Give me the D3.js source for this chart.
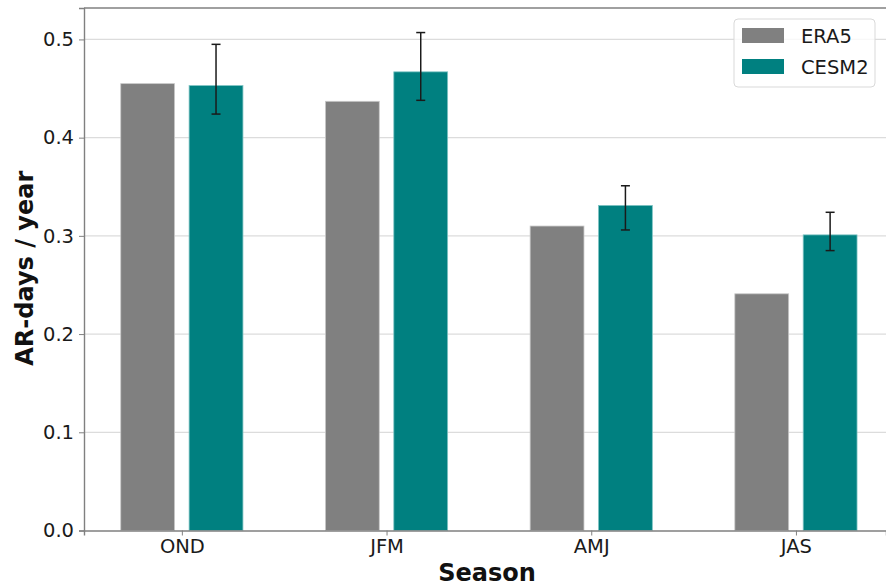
<!DOCTYPE html>
<html>
<head>
<meta charset="utf-8">
<script src="https://cdn.jsdelivr.net/npm/d3@7"></script>
<style>
  html, body { margin: 0; padding: 0; background: #fff; }
  svg { display: block; font-family: "DejaVu Sans", sans-serif; }
</style>
</head>
<body>
<svg id="chart"></svg>
<script>
// seasons and AR-days per year for each data set
const seasons = ["OND", "JFM", "AMJ", "JAS"];
const era5 = [0.455, 0.437, 0.310, 0.241];
const cesm2 = [0.453, 0.467, 0.331, 0.301];
const cesm2Low = [0.424, 0.438, 0.306, 0.285];
const cesm2High = [0.495, 0.507, 0.351, 0.324];
const yTicks = [0.0, 0.1, 0.2, 0.3, 0.4, 0.5];

const width = 886, height = 586;
const margin = { left: 84, top: 8, right: 0, bottom: 56 };

const svg = d3.select("#chart")
    .attr("width", width)
    .attr("height", height);

const x = d3.scaleLinear()
    .domain([-0.478, 3.44])
    .range([margin.left, width - margin.right]);

const y = d3.scaleLinear()
    .domain([0, 0.532])
    .range([height - margin.bottom + 0.5, margin.top]);

const unit = x(1) - x(0);
const barW = 0.263 * unit;
const offset = 0.167 * unit;

// gridlines
svg.append("g")
    .selectAll("line")
    .data(yTicks.slice(1))
    .join("line")
    .attr("x1", margin.left)
    .attr("x2", width)
    .attr("y1", d => y(d))
    .attr("y2", d => y(d))
    .attr("stroke", "#dcdcdc")
    .attr("stroke-width", 1.2);

// bars
const bars = svg.append("g");
bars.selectAll(".era5")
    .data(era5)
    .join("rect")
    .attr("class", "era5")
    .attr("x", (d, i) => x(i) - offset - barW / 2)
    .attr("width", barW)
    .attr("y", d => y(d))
    .attr("height", d => y(0) - y(d))
    .attr("fill", "#808080")
    .attr("stroke", "#c8c8c8")
    .attr("stroke-width", 0.8);

bars.selectAll(".cesm2")
    .data(cesm2)
    .join("rect")
    .attr("class", "cesm2")
    .attr("x", (d, i) => x(i) + offset - barW / 2)
    .attr("width", barW)
    .attr("y", d => y(d))
    .attr("height", d => y(0) - y(d))
    .attr("fill", "#008080")
    .attr("stroke", "#7fc4c4")
    .attr("stroke-width", 0.8);

// error bars
const err = svg.append("g")
    .attr("stroke", "#1a1a1a")
    .attr("stroke-width", 1.5);
seasons.forEach((s, i) => {
    const cx = x(i) + offset;
    err.append("line")
        .attr("x1", cx).attr("x2", cx)
        .attr("y1", y(cesm2Low[i])).attr("y2", y(cesm2High[i]));
    [cesm2Low[i], cesm2High[i]].forEach(v => {
        err.append("line")
            .attr("x1", cx - 4.5).attr("x2", cx + 4.5)
            .attr("y1", y(v)).attr("y2", y(v));
    });
});

// axes
const xAxis = svg.append("g")
    .attr("transform", `translate(0,${y(0)})`)
    .call(d3.axisBottom(x)
        .tickValues(d3.range(seasons.length))
        .tickFormat(i => seasons[i])
        .tickSize(5)
        .tickPadding(4));

const yAxis = svg.append("g")
    .attr("transform", `translate(${margin.left},0)`)
    .call(d3.axisLeft(y)
        .tickValues(yTicks)
        .tickFormat(d3.format(".1f"))
        .tickSize(5)
        .tickPadding(5));

[xAxis, yAxis].forEach(a => {
    a.select(".domain").attr("stroke", "#808080").attr("stroke-width", 1.4);
    a.selectAll(".tick line").attr("stroke", "#808080").attr("stroke-width", 1);
    a.selectAll(".tick text")
        .attr("fill", "#1a1a1a")
        .style("font-size", "19.5px")
        .style("font-family", "DejaVu Sans, sans-serif");
});

// top spine
svg.append("line")
    .attr("x1", margin.left).attr("x2", width)
    .attr("y1", margin.top).attr("y2", margin.top)
    .attr("stroke", "#808080")
    .attr("stroke-width", 1.4);

// axis labels
svg.append("text")
    .attr("x", 487)
    .attr("y", 581)
    .attr("text-anchor", "middle")
    .style("font-size", "24px")
    .style("font-weight", "bold")
    .attr("fill", "#111")
    .text("Season");

svg.append("text")
    .attr("transform", `translate(33,${y(0.267)}) rotate(-90)`)
    .attr("text-anchor", "middle")
    .style("font-size", "24px")
    .style("font-weight", "bold")
    .attr("fill", "#111")
    .text("AR-days / year");

// legend
const legendItems = [
    { name: "ERA5", color: "#808080" },
    { name: "CESM2", color: "#008080" }
];
const legend = svg.append("g").attr("transform", "translate(734,19)");
legend.append("rect")
    .attr("width", 141)
    .attr("height", 68)
    .attr("rx", 4)
    .attr("fill", "#fff")
    .attr("fill-opacity", 0.8)
    .attr("stroke", "#d9d9d9")
    .attr("stroke-width", 1);
legendItems.forEach((d, i) => {
    const g = legend.append("g").attr("transform", `translate(8,${9 + i * 31})`);
    g.append("rect")
        .attr("width", 42)
        .attr("height", 15)
        .attr("fill", d.color);
    g.append("text")
        .attr("x", 59)
        .attr("y", 14.5)
        .attr("fill", "#1a1a1a")
        .style("font-size", "19.5px")
        .text(d.name);
});
</script>
</body>
</html>
